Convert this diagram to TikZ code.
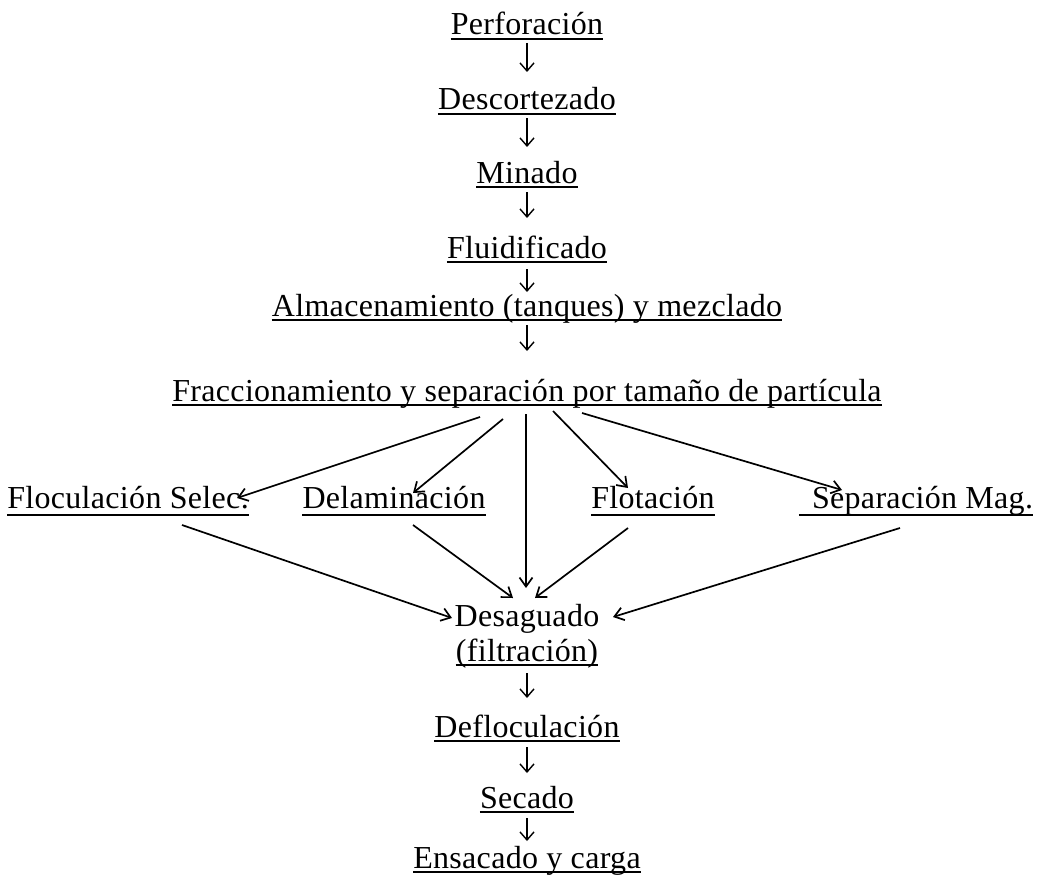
\documentclass[tikz,border=0pt]{standalone}
\usepackage{fontspec}
\setmainfont{Liberation Serif}[LetterSpace=1]
\usetikzlibrary{arrows.meta}

\begin{document}
\begin{tikzpicture}[x=1pt,y=-1pt,
  stage/.style={anchor=base,inner sep=0pt,font=\fontsize{32}{36}\selectfont},
  ul/.style={line width=1.3pt},
  flow/.style={line width=1.4pt,-{Straight Barb[length=8pt,width=14pt,line width=1.4pt]}},
  fan/.style={line width=1.7pt,-{Straight Barb[length=9pt,width=13pt,line width=1.7pt]}}]
\useasboundingbox (0,0) rectangle (1042,891);

% process stages
\node[stage] (perf)  at (527,35)  {Perforación};
\node[stage] (desc)  at (527,110) {Descortezado};
\node[stage] (min)   at (527,183) {Minado};
\node[stage] (fluid) at (527,258) {Fluidificado};
\node[stage] (alm)   at (527,316) {Almacenamiento (tanques) y mezclado};
\node[stage] (frac)  at (527,401) {Fraccionamiento y separación por tamaño de partícula};
\node[stage] (floc)  at (128,508) {Floculación Selec.};
\node[stage] (delam) at (394,508) {Delaminación};
\node[stage] (flot)  at (653,508) {Flotación};
\node[stage] (sep)   at (916,508) {\hspace{13pt}Separación Mag.};
\node[stage] (desag) at (527,626) {Desaguado};
\node[stage] (filt)  at (527,661) {(filtración)};
\node[stage] (deflo) at (527,737) {Defloculación};
\node[stage] (sec)   at (527,808) {Secado};
\node[stage] (ens)   at (527,868) {Ensacado y carga};

% underlines
\foreach \n in {perf,desc,min,fluid,alm,frac,deflo,sec,ens,filt}
  \draw[ul] ([yshift=-4pt]\n.base west) -- ([yshift=-4pt]\n.base east);
\foreach \n in {floc,delam,flot,sep}
  \draw[ul] ([yshift=-7pt]\n.base west) -- ([yshift=-7pt]\n.base east);

% straight sequence
\draw[flow] ([yshift=-8pt]perf.base)  -- ([yshift=38pt]desc.base);
\draw[flow] ([yshift=-8pt]desc.base)  -- ([yshift=36pt]min.base);
\draw[flow] ([yshift=-9pt]min.base)   -- ([yshift=40pt]fluid.base);
\draw[flow] ([yshift=-11pt]fluid.base) -- ([yshift=24pt]alm.base);
\draw[flow] ([yshift=-9pt]alm.base)   -- ([yshift=50pt]frac.base);

% branching into the separation methods
\draw[fan] ([shift={(-47,16)}]frac.base) -- ([shift={(109,-10)}]floc.base);
\draw[fan] ([shift={(-24,18)}]frac.base) -- ([shift={(19,-15)}]delam.base);
\draw[fan] ([shift={(-1,13)}]frac.base)  -- ([shift={(-1,-38)}]desag.base);
\draw[fan] ([shift={(26,10)}]frac.base)  -- ([shift={(-25,-20)}]flot.base);
\draw[fan] ([shift={(55,12)}]frac.base)  -- ([shift={(-74,-18)}]sep.base);

% merging into dewatering
\draw[fan] ([shift={(54,17)}]floc.base)  -- ([shift={(-75,-8)}]desag.base);
\draw[fan] ([shift={(19,17)}]delam.base) -- ([shift={(-14,-28)}]desag.base);
\draw[fan] ([shift={(-25,20)}]flot.base) -- ([shift={(8,-28)}]desag.base);
\draw[fan] ([shift={(-16,20)}]sep.base)  -- ([shift={(86,-9)}]desag.base);

% final sequence
\draw[flow] ([yshift=-12pt]filt.base)  -- ([yshift=39pt]deflo.base);
\draw[flow] ([yshift=-10pt]deflo.base) -- ([yshift=35pt]sec.base);
\draw[flow] ([yshift=-10pt]sec.base)   -- ([yshift=27pt]ens.base);
\end{tikzpicture}
\end{document}
